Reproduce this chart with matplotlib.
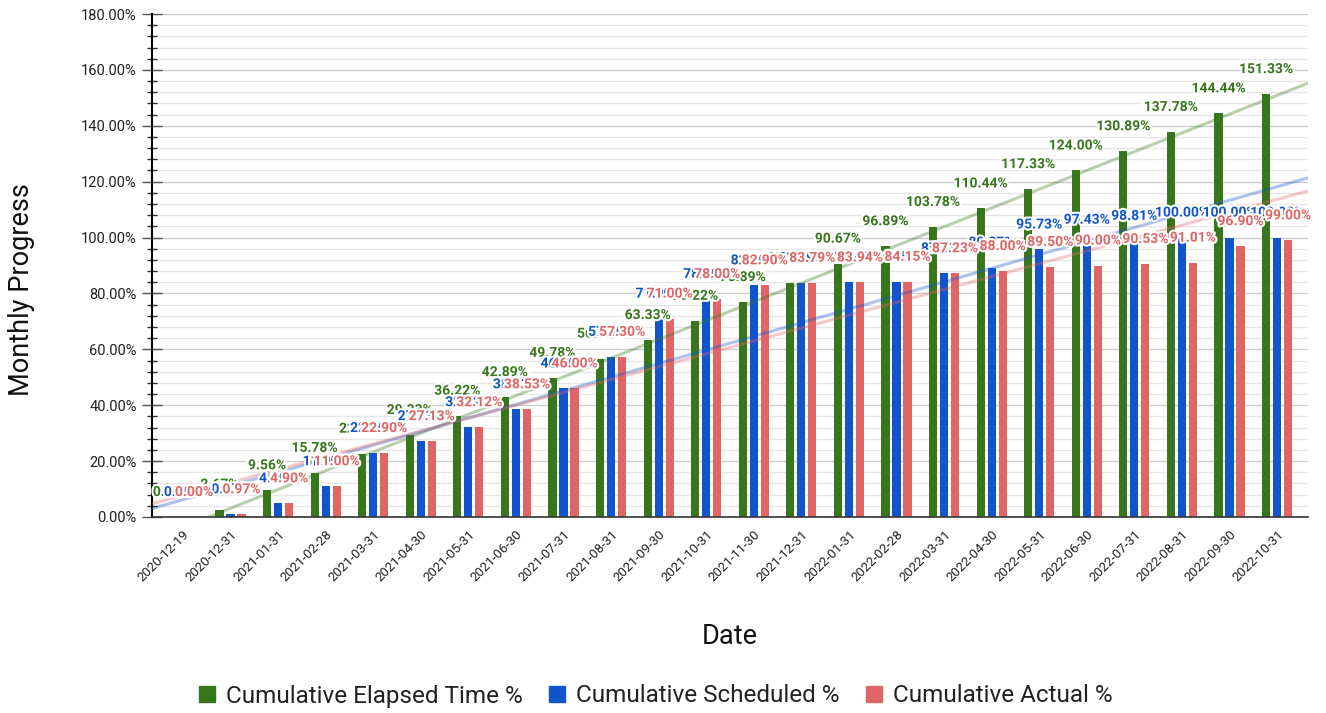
import numpy as np
import matplotlib
matplotlib.use("Agg")
import matplotlib.pyplot as plt
from matplotlib.patches import Patch
from matplotlib.ticker import FuncFormatter, MultipleLocator
import matplotlib.patheffects as pe

plt.rcParams['font.family'] = ['Roboto', 'DejaVu Sans']

dates = ["2020-12-19", "2020-12-31", "2021-01-31", "2021-02-28", "2021-03-31", "2021-04-30",
         "2021-05-31", "2021-06-30", "2021-07-31", "2021-08-31", "2021-09-30", "2021-10-31",
         "2021-11-30", "2021-12-31", "2022-01-31", "2022-02-28", "2022-03-31", "2022-04-30",
         "2022-05-31", "2022-06-30", "2022-07-31", "2022-08-31", "2022-09-30", "2022-10-31"]
elapsed = [0.00, 2.67, 9.56, 15.78, 22.67, 29.33, 36.22, 42.89, 49.78, 56.67, 63.33, 70.22,
           76.89, 83.78, 90.67, 96.89, 103.78, 110.44, 117.33, 124.00, 130.89, 137.78, 144.44, 151.33]
scheduled = [0.00, 0.97, 4.90, 11.00, 22.90, 27.13, 32.12, 38.53, 46.00, 57.30, 71.00, 78.00,
             82.90, 83.79, 83.94, 84.15, 87.23, 89.27, 95.73, 97.43, 98.81, 100.00, 100.00, 100.00]
actual = [0.00, 0.97, 4.90, 11.00, 22.90, 27.13, 32.12, 38.53, 46.00, 57.30, 71.00, 78.00,
          82.90, 83.79, 83.94, 84.15, 87.23, 88.00, 89.50, 90.00, 90.53, 91.01, 96.90, 99.00]
series_names = ["Cumulative Elapsed Time %", "Cumulative Scheduled %", "Cumulative Actual %"]
colors = ["#38761d", "#1155cc", "#e06666"]

fig = plt.figure(figsize=(13.26, 7.13), dpi=100)
ax = fig.add_axes([152/1326, 1-517/713, (1308-152)/1326, (517-14)/713])

x = np.arange(len(dates))
bw = 0.17
offs = [-0.232, 0.0, 0.232]
data = [elapsed, scheduled, actual]
for d, c, o in zip(data, colors, offs):
    ax.bar(x + o, d, width=bw, color=c, zorder=2)

xlim = (-0.65, 23.65)
xx = np.array(xlim)
for d, c in zip(data, colors):
    k, b = np.polyfit(x, d, 1)
    ax.plot(xx, k*xx + b, color=c, alpha=0.35, lw=2.2, zorder=3, solid_capstyle='butt')

z = 5
for d, c, o in zip(data, colors, offs):
    for xi, v in zip(x, d):
        ax.annotate(f"{v:.2f}%", (xi + o, v), xytext=(0, 25), textcoords='offset pixels',
                    ha='center', va='center', fontsize=10, fontweight='bold', color=c,
                    path_effects=[pe.withStroke(linewidth=3, foreground='white')], zorder=z)
    z += 1

ax.set_xlim(*xlim)
ax.set_ylim(0, 180)
ax.yaxis.set_major_locator(MultipleLocator(20))
ax.yaxis.set_minor_locator(MultipleLocator(4))
ax.yaxis.set_major_formatter(FuncFormatter(lambda v, p: f"{v:.2f}%"))
ax.grid(True, which='major', axis='y', color='#cccccc', lw=1.0, zorder=0)
ax.grid(True, which='minor', axis='y', color='#e6e6e6', lw=1.0, zorder=0)
ax.set_axisbelow(True)
ax.tick_params(axis='y', which='major', direction='inout', length=14, width=1, color='#555555',
               labelsize=10.5, labelcolor='#222222', pad=4)
ax.tick_params(axis='y', which='minor', direction='inout', length=7, width=1, color='#333333')
ax.set_xticks(x)
ax.set_xticklabels(dates, rotation=45, ha='right', va='top', rotation_mode='anchor', fontsize=9.5,
                   color='#222222')
ax.tick_params(axis='x', length=0, pad=8)
for s in ['top', 'right']:
    ax.spines[s].set_visible(False)
ax.spines['left'].set_color('black')
ax.spines['left'].set_linewidth(1.5)
ax.spines['bottom'].set_color('#333333')
ax.spines['bottom'].set_linewidth(1.2)

fig.text(22/1326, 1-290/713, "Monthly Progress", fontsize=19.5, color='#111111',
         ha='center', va='center', rotation=90)
fig.text(730/1326, 1-636/713, "Date", fontsize=19.5, color='#111111', ha='center', va='center')

handles = [Patch(color=c) for c in colors]
fig.legend(handles, series_names, loc='center', bbox_to_anchor=(656/1326, 1-696/713), ncol=3,
           frameon=False, fontsize=17.5, handlelength=0.65, handleheight=0.65,
           handletextpad=0.45, columnspacing=1.1, labelcolor='#222222')

fig.savefig("out.png", dpi=100)
